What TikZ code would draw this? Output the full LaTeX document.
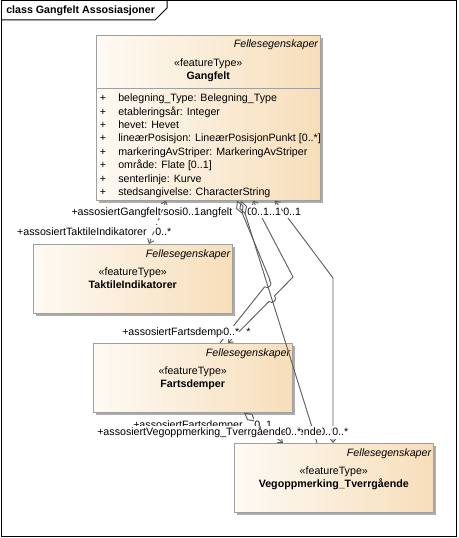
\documentclass[tikz,border=0pt]{standalone}
\usepackage{fontspec}
\setmainfont{Liberation Sans}
\usetikzlibrary{arrows.meta,shadows,calc,intersections}
\definecolor{umlleft}{RGB}{254,250,244}
\definecolor{umlright}{RGB}{247,222,186}
\definecolor{umlborder}{RGB}{160,160,160}
\definecolor{umlshadow}{RGB}{172,172,172}
\definecolor{umlline}{RGB}{95,95,95}
\tikzset{
  klasse/.style={draw=umlborder, left color=umlleft, right color=umlright, anchor=north west, inner sep=0pt,
    minimum width=149.25pt, minimum height=51.75pt,
    drop shadow={shadow xshift=2.25pt, shadow yshift=-2.25pt, fill=umlshadow, opacity=1}},
  tekst/.style={font=\fontsize{8}{9.5}\selectfont, inner sep=0pt, text height=7.5pt, text depth=2pt},
  felles/.style={tekst, font=\fontsize{8}{9.5}\selectfont\itshape, anchor=east},
  navn/.style={tekst, font=\fontsize{8}{9.5}\selectfont\bfseries},
  rolle/.style={tekst, fill=white},
  assos/.style={draw=umlline, line width=0.7pt},
  ruter/.tip={Diamond[open,length=11pt,width=6pt]},
  spiss/.tip={Straight Barb[length=3pt,width=5pt]},
}
\begin{document}
\begin{tikzpicture}[x=0.75pt, y=-0.75pt]
	\fill[white] (0,0) rectangle (458,538);
	\useasboundingbox (0,0) rectangle (458,538);
	% ramme
	\draw[line width=0.75pt] (1,1) rectangle (456,536);
	\draw[line width=0.75pt] (1,20) -- (155,20) -- (167,8) -- (167,1);
	\node[navn, anchor=west] (tittel) at (6,10.3) {class Gangfelt Assosiasjoner};
	% Gangfelt
	\node[klasse, minimum width=168pt, minimum height=123.75pt] (gangfelt) at (96,35) {};
	\draw[umlborder] (gangfelt.west |- 0,88) -- (gangfelt.east |- 0,88);
	\node[felles] (gangfelt-felles) at ([xshift=-1.7pt,yshift=-7pt]gangfelt.north east) {Fellesegenskaper};
	\node[tekst] (gangfelt-stereo) at ([yshift=-21.2pt]gangfelt.north) {«featureType»};
	\node[navn] (gangfelt-navn) at ([yshift=-30.9pt]gangfelt.north) {Gangfelt};
	\foreach \a [count=\i from 0] in {{belegning\_Type: Belegning\_Type}, {etableringsår: Integer}, {hevet: Hevet},
		{lineærPosisjon: LineærPosisjonPunkt [0..*]}, {markeringAvStriper: MarkeringAvStriper}, {område: Flate [0..1]},
		{senterlinje: Kurve}, {stedsangivelse: CharacterString}}{
		\node[tekst] (pluss\i) at (103,{98+13.4*\i}) {+};
		\node[tekst, anchor=west] (attr\i) at (118,{98+13.4*\i}) {\a};
	}
	% de andre klassene
	\foreach \n/\x/\y/\t in {taktile/33/244/TaktileIndikatorer, fart/93/343/Fartsdemper, veg/234/443/Vegoppmerking\_Tverrgående}{
		\node[klasse] (\n) at (\x,\y) {};
		\node[felles] (\n-felles) at ([xshift=-1.6pt,yshift=-7pt]\n.north east) {Fellesegenskaper};
		\node[tekst] (\n-stereo) at ([yshift=-21.2pt]\n.north) {«featureType»};
		\node[navn] (\n-navn) at ([yshift=-30.6pt]\n.north) {\t};
	}
	% assosiasjoner
	\coordinate (kX) at (270,280);
	\coordinate (kY) at (293,277);
	\coordinate (kV) at (333,278);
	\coordinate (fX) at (220,0 |- fart.north);
	\coordinate (fY) at (228,0 |- fart.north);
	\draw[assos, dashed, spiss-spiss] (166,0 |- gangfelt.south) -- (149,0 |- taktile.north);
	\draw[assos, name path=langL, ruter-] (241,0 |- gangfelt.south) -- (317,0 |- veg.north);
	\path[name path=delX] (kX) -- (fX);
	\path[name path=delY] (kY) -- (fY);
	\path[name intersections={of=langL and delX, by=hX}];
	\path[name intersections={of=langL and delY, by=hY}];
	\draw[assos, ruter-] (237,0 |- gangfelt.south) -- (kX) -- ($(hX)!3pt!(kX)$)
		to[bend left=90, looseness=1.6] ($(hX)!3pt!(fX)$) -- (fX);
	\draw[assos, spiss-spiss] (253,0 |- gangfelt.south) -- (kY) -- ($(hY)!3pt!(kY)$)
		to[bend left=90, looseness=1.6] ($(hY)!3pt!(fY)$) -- (fY);
	\draw[assos, spiss-spiss] (275,0 |- gangfelt.south) -- (kV) -- (kV |- veg.north);
	\draw[assos, ruter-spiss] (244,0 |- fart.south) -- (283,0 |- veg.north);
	% rollenavn og multiplisitet
	\node[rolle, anchor=east] (r1) at (161,211.5) {+assosiertGangfelt};
	\node[rolle, anchor=west] (r2) at (163,211.5) {sosi};
	\node[rolle, anchor=west] (m1) at (182,211.5) {0..1};
	\node[rolle, anchor=west] (r3) at (200,211.5) {angfelt};
	\node[rolle, anchor=west] (m2) at (263,211.5) {0..1};
	\node[rolle, anchor=west] (m3) at (247,211.5) {0};
	\node[rolle, anchor=west] (m4) at (251,211.5) {0..1};
	\node[rolle, anchor=west] (m5) at (283,211.5) {0..1};
	\node[rolle, anchor=east] (r4) at (147,231.8) {+assosiertTaktileIndikatorer};
	\node[rolle, anchor=west] (m6) at (155,231.8) {0..*};
	\node[rolle, anchor=west] (r5) at (122,332.3) {+assosiertFartsdemper};
	\node[rolle, anchor=west] (m7) at (223,332.3) {0..*};
	\node[rolle, anchor=west] (m8) at (246,332.3) {*};
	\node[rolle, anchor=west] (r6) at (133,424.8) {+assosiertFartsdemper};
	\node[rolle, anchor=west] (m9) at (254,424.8) {0..1};
	\node[rolle, anchor=west] (m10) at (319,432.3) {0..*};
	\node[rolle, anchor=east] (r7) at (322,432.3) {+assosiertVegoppmerking\_Tverrgående};
	\node[rolle, anchor=west] (m11) at (332,432.3) {0..*};
	\node[rolle, anchor=west] (r8) at (97,432.3) {+assosiertVegoppmerking\_Tverrgående};
	\node[rolle, anchor=west] (m12) at (285,432.3) {0..*};
\end{tikzpicture}
\end{document}
